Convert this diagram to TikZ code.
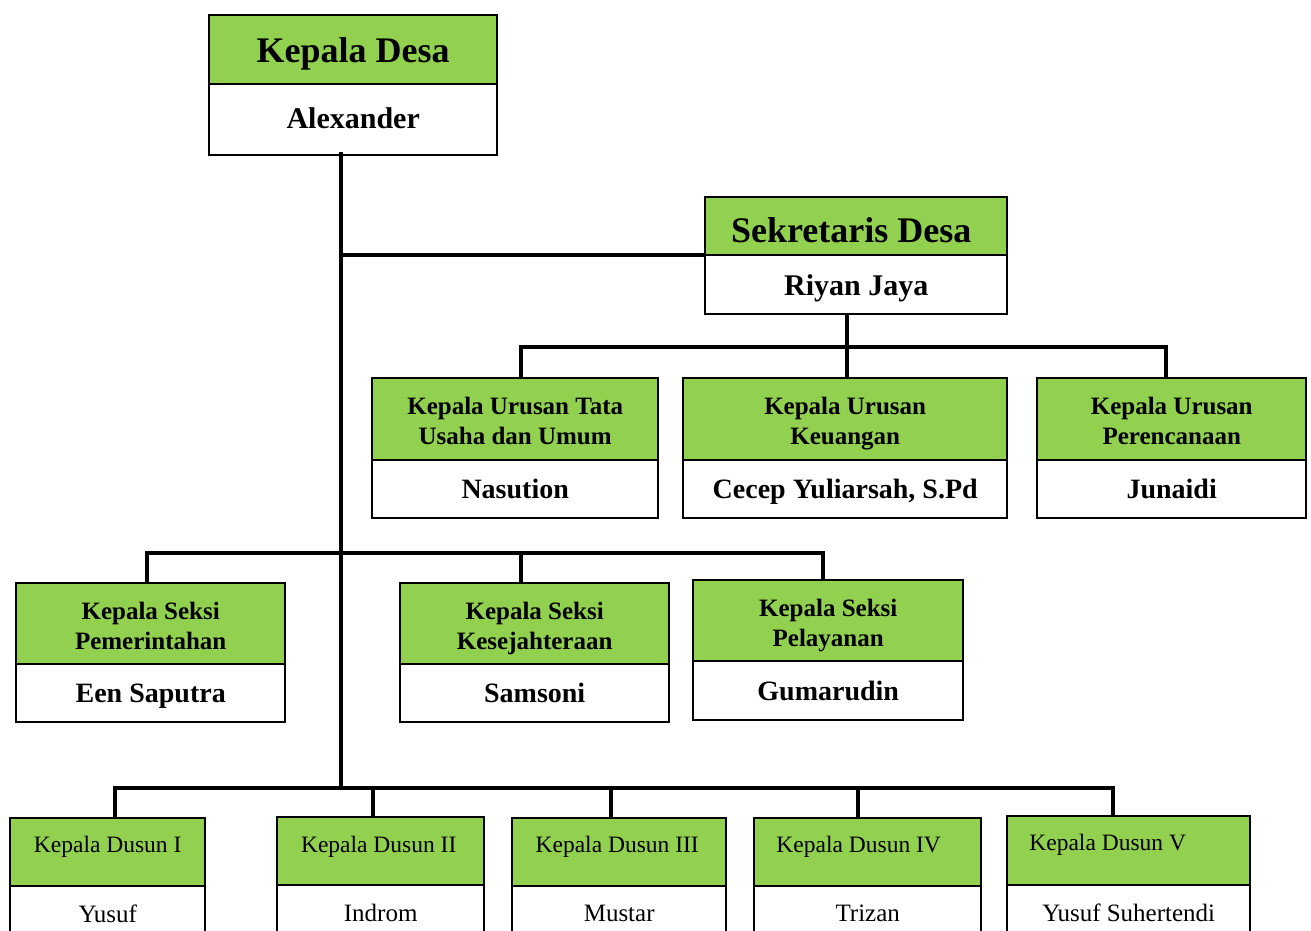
\documentclass[tikz,border=0pt]{standalone}
\usepackage{fontspec}
\setmainfont{Liberation Serif}
\definecolor{hgreen}{HTML}{92D050}
\newcommand\liftup[2]{\raisebox{#1}[\height][\depth]{#2}}
\tikzset{
  boxbase/.style={draw=black, line width=2.4pt, anchor=north west, inner sep=0pt, align=center, rectangle, text depth=0pt},
  hdr/.style={boxbase, fill=hgreen},
  bdy/.style={boxbase, fill=white},
  fbig/.style={font=\fontsize{36}{40}\selectfont\bfseries},
  fname/.style={font=\fontsize{30}{34}\selectfont\bfseries},
  fmid/.style={font=\fontsize{25}{30}\selectfont\bfseries},
  fmidname/.style={font=\fontsize{28}{32}\selectfont\bfseries},
  fsmall/.style={font=\fontsize{23.5}{27}\selectfont},
  fsmallname/.style={font=\fontsize{25}{29}\selectfont},
  conn/.style={line width=3.6pt, line cap=rect},
}
\begin{document}
\begin{tikzpicture}[x=1pt, y=-1pt]
\useasboundingbox (0,0) rectangle (1311,931);
% top
\node[hdr, fbig, minimum width=288pt, minimum height=69pt] (kdh) at (208,14) {Kepala Desa};
\node[bdy, fname, minimum width=288pt, minimum height=71pt] (kdb) at (208,83) {\liftup{2pt}{Alexander}};
% sekretaris
\node[hdr, fbig, minimum width=302pt, minimum height=58pt] (sekh) at (704,196) {\liftup{-4pt}{Sekretaris Desa\hspace{10pt}}};
\node[bdy, fname, minimum width=302pt, minimum height=59pt] (sekb) at (704,254) {Riyan Jaya};
% urusan
\node[hdr, fmid, minimum width=286pt, minimum height=82pt] (ku1h) at (371,377) {\liftup{-2pt}{Kepala Urusan Tata}\\\liftup{-2pt}{Usaha dan Umum}};
\node[bdy, fmidname, minimum width=286pt, minimum height=58pt] (ku1b) at (371,459) {Nasution};
\node[hdr, fmid, minimum width=324pt, minimum height=82pt] (ku2h) at (682,377) {\liftup{-2pt}{Kepala Urusan}\\\liftup{-2pt}{Keuangan}};
\node[bdy, fmidname, minimum width=324pt, minimum height=58pt] (ku2b) at (682,459) {Cecep Yuliarsah, S.Pd};
\node[hdr, fmid, minimum width=269pt, minimum height=82pt] (ku3h) at (1036,377) {\liftup{-2pt}{Kepala Urusan}\\\liftup{-2pt}{Perencanaan}};
\node[bdy, fmidname, minimum width=269pt, minimum height=58pt] (ku3b) at (1036,459) {Junaidi};
% seksi
\node[hdr, fmid, minimum width=269pt, minimum height=81pt] (ks1h) at (15,582) {\liftup{-2pt}{Kepala Seksi}\\\liftup{-2pt}{Pemerintahan}};
\node[bdy, fmidname, minimum width=269pt, minimum height=58pt] (ks1b) at (15,663) {Een Saputra};
\node[hdr, fmid, minimum width=269pt, minimum height=81pt] (ks2h) at (399,582) {\liftup{-2pt}{Kepala Seksi}\\\liftup{-2pt}{Kesejahteraan}};
\node[bdy, fmidname, minimum width=269pt, minimum height=58pt] (ks2b) at (399,663) {Samsoni};
\node[hdr, fmid, minimum width=270pt, minimum height=81pt] (ks3h) at (692,579) {\liftup{-2pt}{Kepala Seksi}\\\liftup{-2pt}{Pelayanan}};
\node[bdy, fmidname, minimum width=270pt, minimum height=59pt] (ks3b) at (692,660) {Gumarudin};
% dusun
\node[hdr, fsmall, minimum width=195pt, minimum height=68pt] (d1h) at (9,817) {\liftup{7.5pt}{Kepala Dusun I}};
\node[bdy, fsmallname, minimum width=195pt, minimum height=55pt] (d1b) at (9,885) {Yusuf};
\node[hdr, fsmall, minimum width=207pt, minimum height=68pt] (d2h) at (276,816) {\liftup{6.5pt}{Kepala Dusun II\hspace{4pt}}};
\node[bdy, fsmallname, minimum width=207pt, minimum height=55pt] (d2b) at (276,884) {Indrom};
\node[hdr, fsmall, minimum width=214pt, minimum height=68pt] (d3h) at (511,817) {\liftup{7.5pt}{Kepala Dusun III\hspace{4pt}}};
\node[bdy, fsmallname, minimum width=214pt, minimum height=55pt] (d3b) at (511,885) {Mustar};
\node[hdr, fsmall, minimum width=227pt, minimum height=68pt] (d4h) at (753,817) {\liftup{7.5pt}{Kepala Dusun IV\hspace{18pt}}};
\node[bdy, fsmallname, minimum width=227pt, minimum height=55pt] (d4b) at (753,885) {Trizan};
\node[hdr, fsmall, minimum width=243pt, minimum height=69pt] (d5h) at (1006,815) {\liftup{8pt}{Kepala Dusun V\hspace{42pt}}};
\node[bdy, fsmallname, minimum width=243pt, minimum height=55pt] (d5b) at (1006,884) {Yusuf Suhertendi};
% bus coordinates
\coordinate (t0) at (341,154);
\coordinate (tsek) at (341,255);
\coordinate (tend) at (341,788);
\coordinate (ubus) at (847,347);
\coordinate (u1) at (521,347);
\coordinate (u3) at (1166,347);
\coordinate (s1) at (147,553);
\coordinate (s2) at (521,553);
\coordinate (s3) at (823,553);
\coordinate (p1) at (115,788);
\coordinate (p2) at (373,788);
\coordinate (p3) at (611,788);
\coordinate (p4) at (858,788);
\coordinate (p5) at (1113,788);
% connectors
\draw[conn] (t0) -- (tend);
\draw[conn] (tsek) -- (tsek -| sekh.south west);
\draw[conn] (ubus |- sekb.south) -- (ubus) -- (ubus |- ku2h.north);
\draw[conn] (u1 |- ku1h.north) -- (u1) -- (u3) -- (u3 |- ku3h.north);
\draw[conn] (s1 |- ks1h.north) -- (s1) -- (s3) -- (s3 |- ks3h.north);
\draw[conn] (s2) -- (s2 |- ks2h.north);
\draw[conn] (p1 |- d1h.north) -- (p1) -- (p5) -- (p5 |- d5h.north);
\draw[conn] (p2) -- (p2 |- d2h.north);
\draw[conn] (p3) -- (p3 |- d3h.north);
\draw[conn] (p4) -- (p4 |- d4h.north);
\end{tikzpicture}
\end{document}
